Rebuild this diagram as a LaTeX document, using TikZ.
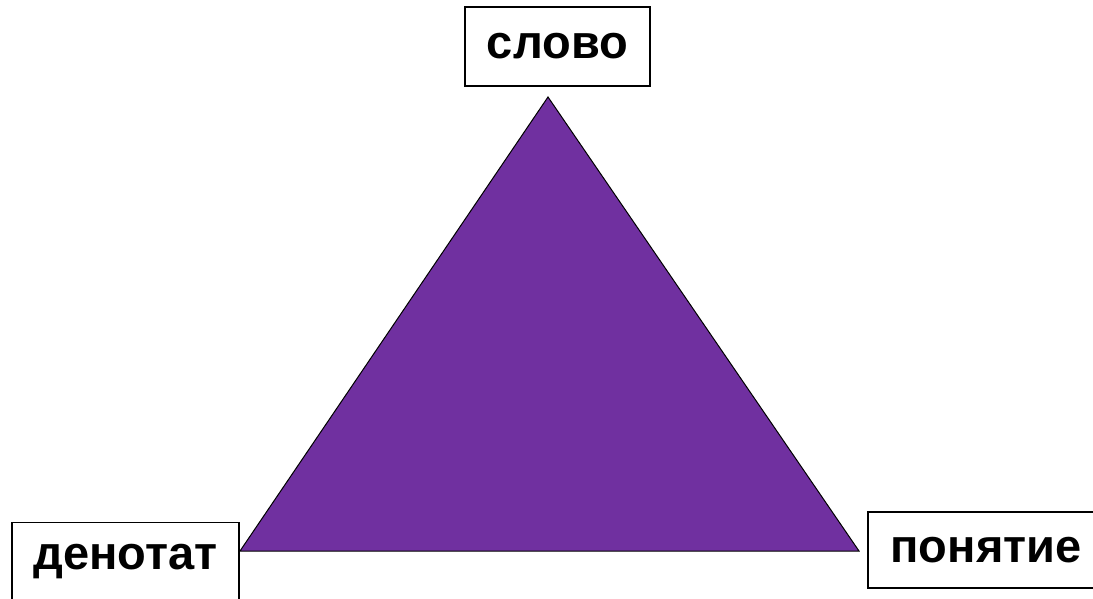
\documentclass[tikz,border=0pt]{standalone}
\usepackage{fontspec}
\setmainfont{Liberation Sans}
\definecolor{trifill}{HTML}{7030A0}
\begin{document}
\begin{tikzpicture}[x=1pt,y=-1pt,
  labelbox/.style={draw=black,line width=1.6pt,fill=white,inner sep=0pt,font=\fontsize{47}{52}\selectfont\bfseries}]
\useasboundingbox[fill=white] (0,0) rectangle (1093,598);
\coordinate (top) at (548,97);
\coordinate (left) at (240,551);
\coordinate (right) at (859,551);
\filldraw[fill=trifill,draw=black,line width=1pt,line join=miter] (top) -- (left) -- (right) -- cycle;
\node[labelbox,minimum width=185pt,minimum height=79pt] (slovo) at (557.5,46.5) {слово};
\node[labelbox,minimum width=227pt,minimum height=78pt] (denotat) at (125.5,561.5) {денотат};
\node[labelbox,minimum width=236pt,minimum height=76pt] (ponyatie) at (986,550) {понятие};
\end{tikzpicture}
\end{document}
